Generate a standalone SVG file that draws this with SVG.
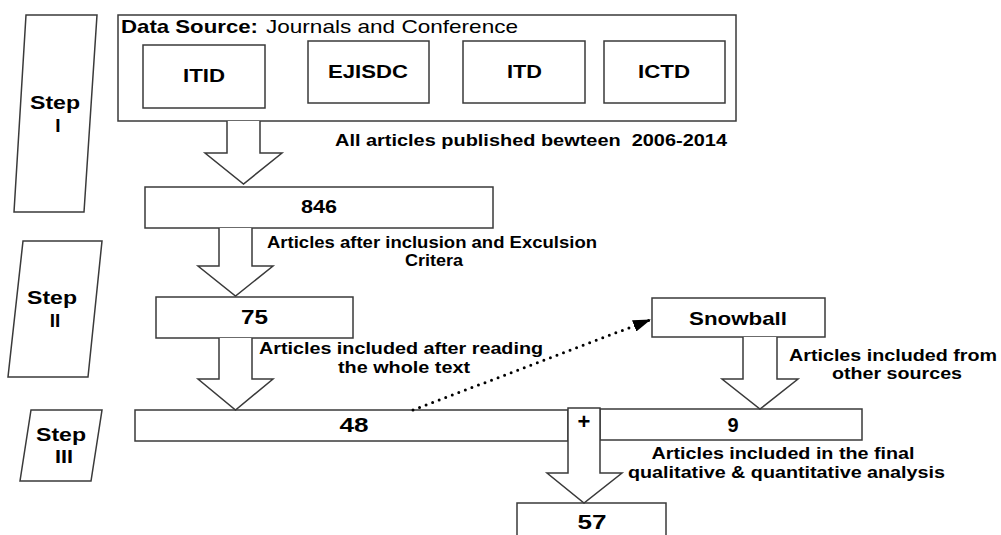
<svg xmlns="http://www.w3.org/2000/svg" width="1001" height="535" viewBox="0 0 1001 535">
<style>
.b{fill:#fff;stroke:#3a3a3a;stroke-width:1.5}
.t{font-family:"Liberation Sans",Arial,sans-serif;font-weight:bold;fill:#000}
.c{text-anchor:middle}
.n{font-size:19px}
.big{font-size:20px}
.l{font-size:16px}
.dot{fill:none;stroke:#000;stroke-width:3;stroke-linecap:round;stroke-dasharray:0 7}
</style>
<defs>
<marker id="ah" viewBox="0 0 18 12" refX="18" refY="6" markerWidth="18" markerHeight="12" markerUnits="userSpaceOnUse" orient="auto">
<path d="M0,0 L18,6 L0,12 Z" fill="#000"/>
</marker>
</defs>
<rect width="1001" height="535" fill="#fff"/>

<g id="step1">
<polygon class="b" points="26,15 97,15 84,212 14,212"/>
<text class="t n c" x="55" y="109" textLength="50" lengthAdjust="spacingAndGlyphs">Step</text>
<text class="t n c" x="58" y="132">I</text>
</g>
<g id="step2">
<polygon class="b" points="23,241 102,241 88,377 8,377"/>
<text class="t n c" x="52" y="304" textLength="50" lengthAdjust="spacingAndGlyphs">Step</text>
<text class="t n c" x="55" y="327">II</text>
</g>
<g id="step3">
<polygon class="b" points="31,410 102,410 91,481 20,481"/>
<text class="t n c" x="61" y="441" textLength="50" lengthAdjust="spacingAndGlyphs">Step</text>
<text class="t n c" x="64" y="463" textLength="18" lengthAdjust="spacingAndGlyphs">III</text>
</g>

<g id="datasource">
<rect class="b" x="118" y="15" width="618" height="106"/>
<text class="t n" x="121" y="33" textLength="137" lengthAdjust="spacingAndGlyphs">Data Source:</text>
<text x="266" y="33" font-family="Liberation Sans, Arial, sans-serif" font-size="19" textLength="252" lengthAdjust="spacingAndGlyphs">Journals and Conference</text>
</g>
<g id="itid">
<rect class="b" x="143" y="45" width="122" height="63"/>
<text class="t n c" x="204" y="82" textLength="42" lengthAdjust="spacingAndGlyphs">ITID</text>
</g>
<g id="ejisdc">
<rect class="b" x="308" y="41" width="121" height="62"/>
<text class="t n c" x="368" y="78" textLength="80" lengthAdjust="spacingAndGlyphs">EJISDC</text>
</g>
<g id="itd">
<rect class="b" x="463" y="41" width="122" height="62"/>
<text class="t n c" x="524.5" y="78" textLength="35" lengthAdjust="spacingAndGlyphs">ITD</text>
</g>
<g id="ictd">
<rect class="b" x="604" y="41" width="121" height="62"/>
<text class="t n c" x="664" y="78" textLength="52" lengthAdjust="spacingAndGlyphs">ICTD</text>
</g>

<g id="n846">
<rect class="b" x="145" y="187" width="348" height="41"/>
<text class="t n c" x="319" y="213" textLength="36" lengthAdjust="spacingAndGlyphs">846</text>
</g>
<g id="n75">
<rect class="b" x="156" y="297" width="197" height="41"/>
<text class="t big c" x="254.5" y="324" textLength="27" lengthAdjust="spacingAndGlyphs">75</text>
</g>
<g id="snowball">
<rect class="b" x="652" y="298" width="173" height="39"/>
<text class="t n c" x="738" y="325" textLength="98" lengthAdjust="spacingAndGlyphs">Snowball</text>
</g>
<g id="n48">
<rect class="b" x="135" y="410" width="433" height="31"/>
<text class="t big c" x="354" y="432" textLength="29" lengthAdjust="spacingAndGlyphs">48</text>
</g>
<g id="n9">
<rect class="b" x="600" y="409" width="262" height="31"/>
<text class="t big c" x="733" y="432">9</text>
</g>
<g id="n57">
<rect class="b" x="517" y="503" width="149" height="40"/>
<text class="t big c" x="592" y="529" textLength="29" lengthAdjust="spacingAndGlyphs">57</text>
</g>

<g id="connectors">
<path class="b" d="M227,121 V153 H205 L243.5,184 L282,153 H260 V121"/>
<path class="b" d="M219,228 V266 H198 L235.5,296 L273,266 H252 V228"/>
<path class="b" d="M219,338 V379 H198 L235.5,410 L273,379 H252 V338"/>
<path class="b" d="M743,337 V379 H722 L760,409 L798,379 H777 V337"/>
<path class="b" d="M568,473 V408 H600 V473 H622 L584,503 L547,473 Z"/>
<text class="t c" x="584" y="429" font-size="22">+</text>
<path class="dot" d="M413,410 L651,319.5" marker-end="url(#ah)"/>
</g>

<g id="labels">
<text class="t c" x="531" y="146" font-size="16.5" textLength="392" lengthAdjust="spacingAndGlyphs" xml:space="preserve">All articles published bewteen  2006-2014</text>
<text class="t l" x="267" y="248" textLength="330" lengthAdjust="spacingAndGlyphs">Articles after inclusion and Exculsion</text>
<text class="t l c" x="434" y="266" textLength="58" lengthAdjust="spacingAndGlyphs">Critera</text>
<text class="t l" x="259" y="354" textLength="284" lengthAdjust="spacingAndGlyphs">Articles included after reading</text>
<text class="t l c" x="404" y="373" textLength="132" lengthAdjust="spacingAndGlyphs">the whole text</text>
<text class="t l" x="789" y="361" textLength="208" lengthAdjust="spacingAndGlyphs">Articles included from</text>
<text class="t l c" x="897" y="379" textLength="130" lengthAdjust="spacingAndGlyphs">other sources</text>
<text class="t l c" x="783" y="459" textLength="263" lengthAdjust="spacingAndGlyphs">Articles included in the final</text>
<text class="t l" x="628" y="478" textLength="317" lengthAdjust="spacingAndGlyphs">qualitative &amp; quantitative analysis</text>
</g>
</svg>
